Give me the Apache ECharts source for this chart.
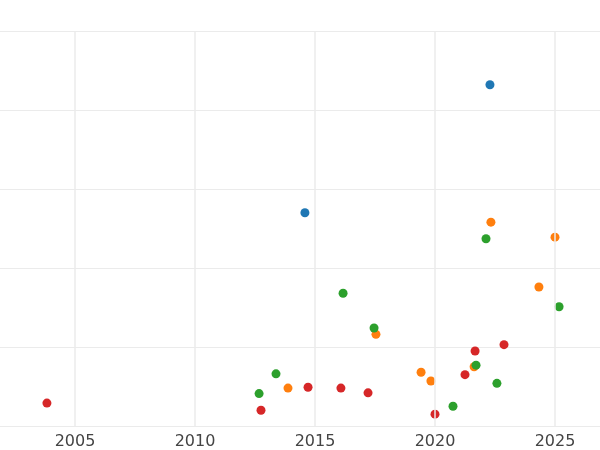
<!DOCTYPE html><html><head><meta charset="utf-8"><script src="https://cdn.jsdelivr.net/npm/echarts@6/dist/echarts.min.js"></script></head><body style="margin:0"><div id="c" style="width:600px;height:450px"></div><script>
const blueX=[2022.29,2014.58], blueY=[4.32,2.70];
const orangeX=[2022.33,2025.0,2024.33,2017.54,2019.42,2019.83,2021.63,2013.875];
const orangeY=[2.58,2.39,1.76,1.16,0.68,0.57,0.75,0.48];
const greenX=[2022.125,2016.17,2017.46,2025.17,2013.375,2012.67,2022.58,2020.75,2021.71];
const greenY=[2.37,1.68,1.24,1.51,0.66,0.41,0.54,0.25,0.77];
const redX=[2003.83,2012.75,2014.71,2016.08,2017.21,2020.0,2021.25,2021.67,2022.875];
const redY=[0.29,0.20,0.49,0.48,0.42,0.15,0.65,0.95,1.03];
const xTicks=[2005,2010,2015,2020,2025];
const zip=(a,b)=>a.map((v,i)=>[v,b[i]]);
const mk=(x,y,c)=>({type:'scatter',data:zip(x,y),symbolSize:9,itemStyle:{color:c,opacity:1}});
echarts.init(document.getElementById('c')).setOption({
animation:false,
grid:{left:0,right:0,top:31,bottom:24},
xAxis:{type:'value',min:2001.875,max:2026.875,axisLine:{show:false},axisTick:{show:false},
 splitLine:{show:false},axisLabel:{show:false}},
yAxis:{type:'value',min:0,max:5,interval:1,axisLabel:{show:false},axisLine:{show:false},axisTick:{show:false},
 splitLine:{lineStyle:{color:'#ebebeb',width:1}}},
series:[
 {type:'scatter',data:xTicks.map(v=>[v,0]),symbolSize:0,silent:true,
  markLine:{silent:true,symbol:'none',label:{show:true,position:'start',distance:8,formatter:p=>p.value,fontSize:16,color:'#444',fontFamily:'DejaVu Sans'},
   lineStyle:{color:'#ebebeb',type:'solid',width:1.5},data:xTicks.map(v=>({xAxis:v}))}},
 mk(blueX,blueY,'#1f77b4'),mk(orangeX,orangeY,'#ff7f0e'),mk(greenX,greenY,'#2ca02c'),mk(redX,redY,'#d62728')]
});
</script></body></html>
